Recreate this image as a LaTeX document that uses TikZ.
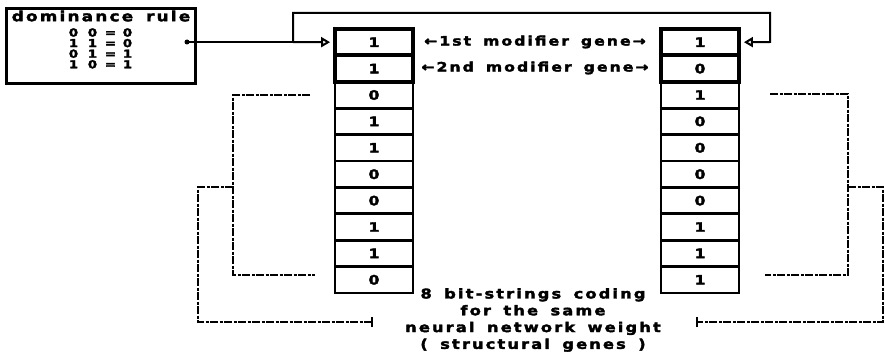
\documentclass[tikz,border=0pt]{standalone}
\usepackage{fontspec}
\setmainfont{DejaVu Sans}[FakeStretch=1.2,LetterSpace=16,WordSpace=1.6,BoldFeatures={FakeBold=2.5}]
\usetikzlibrary{arrows.meta}
% one row of the dominance table: two alleles and the result
\newcommand\domrow[3]{\makebox[19pt]{#1}\makebox[19pt]{#2}\makebox[17pt]{=}\makebox[17pt]{#3}}
\begin{document}
\begin{tikzpicture}[x=1pt,y=-1pt,
  cell/.style={draw, line width=2.8pt, minimum width=78pt, minimum height=26.4pt,
    inner sep=0pt, font=\bfseries\fontsize{13}{13}\selectfont},
  modcell/.style={cell, line width=3.8pt},
  lbl/.style={inner sep=0pt, font=\bfseries\fontsize{13.5}{16.8}\selectfont},
  modlbl/.style={inner sep=0pt, font=\bfseries\fontsize{13}{16}\selectfont},
  rulefont/.style={inner sep=0pt, font=\bfseries\fontsize{11}{11}\selectfont},
  link/.style={line width=2pt},
  tip/.style={-{Triangle[open,length=9pt,width=10pt,line width=2pt]}},
  bracket/.style={line width=1.5pt, dash pattern=on 8pt off 1.5pt on 3pt off 1.5pt}]
\useasboundingbox (0,0) rectangle (885,353);

% dominance rule box
\node[draw, line width=3pt, minimum width=189pt, minimum height=75pt,
  anchor=north west, inner sep=0pt] (dom) at (5,7) {};
\node[lbl, font=\bfseries\fontsize{14}{16}\selectfont] (domt) at (101,16) {dominance rule};
\foreach \a/\b/\c [count=\r from 0] in {0/0/0,1/1/0,0/1/1,1/0/1}
  \node[rulefont] (rule\r) at (100,32.5+10.6*\r) {\domrow{\a}{\b}{\c}};

% the two chromosomes: two modifier genes on top, eight structural genes below
\foreach \b [count=\i from 0] in {1,1}
  \node[modcell] (L\i) at (374,42.2+26.4*\i) {\b};
\foreach \b [count=\i from 2] in {0,1,1,0,0,1,1,0}
  \node[cell] (L\i) at (374,42.2+26.4*\i) {\b};
\foreach \b [count=\i from 0] in {1,0}
  \node[modcell] (R\i) at (700,42.2+26.4*\i) {\b};
\foreach \b [count=\i from 2] in {1,0,0,0,0,1,1,1}
  \node[cell] (R\i) at (700,42.2+26.4*\i) {\b};

% modifier gene labels
\node[modlbl] (m1) at (535,42) {←1st modifier gene→};
\node[modlbl] (m2) at (535,68) {←2nd modifier gene→};

% rule applied to both first modifier genes
\coordinate (dot) at (187,42);
\coordinate (split) at (293,42);
\coordinate (tr) at (770,13);
\coordinate (rr) at (770,42);
\fill (dot) circle (2.5pt);
\draw[link] (dot) -- (split);
\draw[link,tip] (split) -- ([xshift=-3pt]L0.west);
\draw[link,tip] (split) |- (tr) -- (rr) -- ([xshift=3pt]R0.east);

% brackets grouping the structural genes
\coordinate (la) at (310,95);
\coordinate (lb) at (233,95);
\coordinate (lc) at (233,275);
\coordinate (ld) at (315,275);
\coordinate (lm) at (233,187);
\coordinate (le) at (198,187);
\coordinate (lf) at (198,322);
\coordinate (lg) at (372,322);
\draw[bracket] (la) -- (lb) -- (lc) -- (ld);
\draw[bracket] (lm) -- (le) -- (lf) -- (lg);
\draw[line width=1.5pt] ([yshift=-5pt]lg) -- ([yshift=5pt]lg);

\coordinate (ra) at (770,94);
\coordinate (rb) at (848,94);
\coordinate (rc) at (848,275);
\coordinate (rd) at (765,275);
\coordinate (rm) at (848,187);
\coordinate (re) at (883,187);
\coordinate (rf) at (883,322);
\coordinate (rg) at (697,322);
\draw[bracket] (ra) -- (rb) -- (rc) -- (rd);
\draw[bracket] (rm) -- (re) -- (rf) -- (rg);
\draw[line width=1.5pt] ([yshift=-5pt]rg) -- ([yshift=5pt]rg);

% caption
\node[lbl, align=center] (cap) at (533,320)
  {8 bit-strings coding\\for the same\\neural network weight\\( structural genes )};
\end{tikzpicture}
\end{document}
